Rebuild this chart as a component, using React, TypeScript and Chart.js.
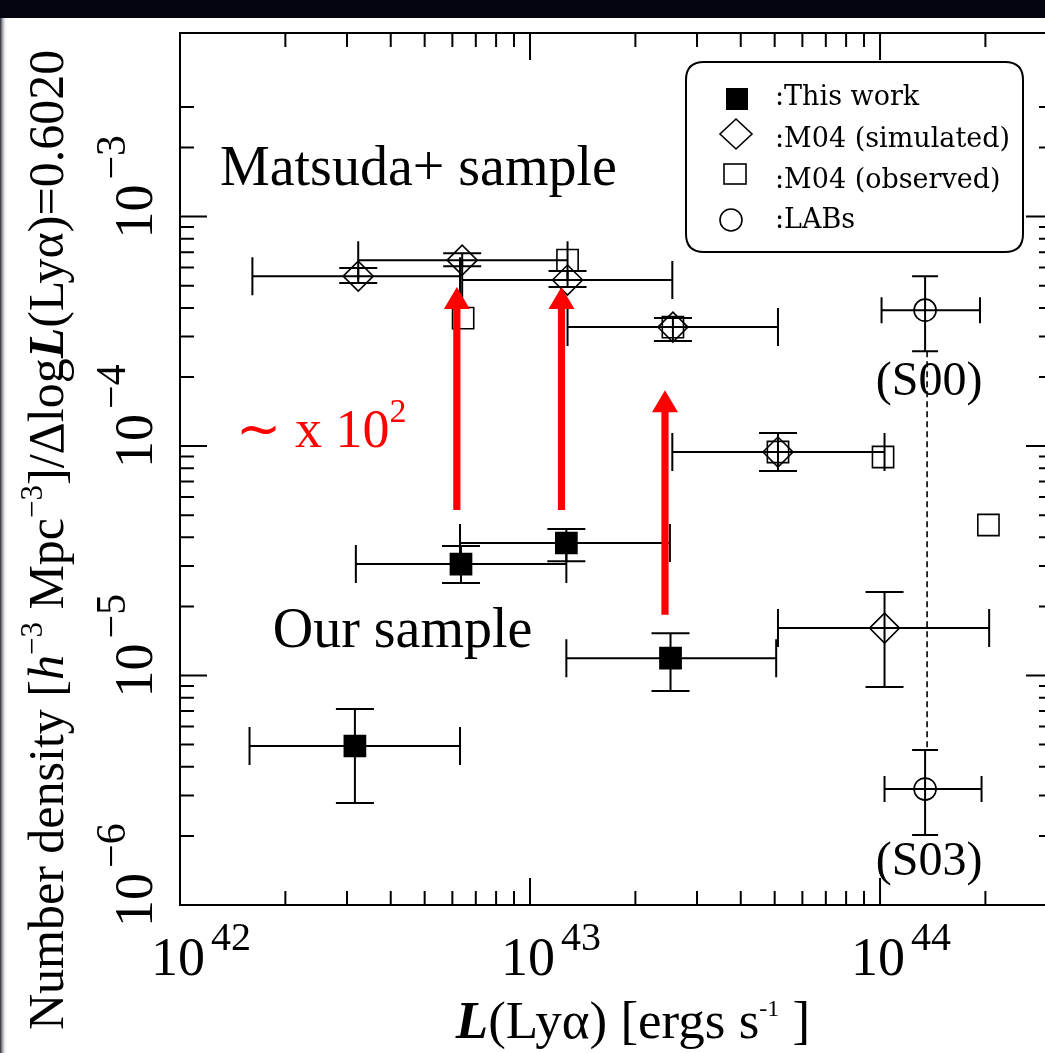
import React, { useEffect, useRef } from "react";
import { Chart, registerables } from "chart.js";

Chart.register(...registerables);

// ---------- data ----------
// This work (filled squares)
const thisWorkL = [3.16e42, 6.35e42, 1.27e43, 2.52e43];
const thisWorkLLo = [1.58e42, 3.18e42, 6.31e42, 1.27e43];
const thisWorkLHi = [6.31e42, 1.27e43, 2.51e43, 5.05e43];
const thisWorkN = [4.93e-6, 3.06e-5, 3.78e-5, 1.19e-5];
const thisWorkNLo = [2.78e-6, 2.53e-5, 3.15e-5, 8.56e-6];
const thisWorkNHi = [7.14e-6, 3.67e-5, 4.35e-5, 1.53e-5];

// M04 (simulated) (open diamonds)
const m04SimL = [3.23e42, 6.4e42, 1.28e43, 2.56e43, 5.11e43, 1.03e44];
const m04SimLLo = [1.61e42, 3.23e42, 6.4e42, 1.28e43, 2.55e43, 5.11e43];
const m04SimLHi = [6.31e42, 1.28e43, 2.55e43, 5.11e43, 1.03e44, 2.05e44];
const m04SimN = [5.5e-4, 6.46e-4, 5.29e-4, 3.3e-4, 9.42e-5, 1.61e-5];
const m04SimNLo = [5.13e-4, 6.08e-4, 4.93e-4, 2.87e-4, 7.78e-5, 8.91e-6];
const m04SimNHi = [5.97e-4, 6.93e-4, 5.79e-4, 3.61e-4, 1.14e-4, 2.31e-5];

// M04 (observed) (open squares)
const m04ObsL = [6.44e42, 1.28e43, 2.56e43, 5.11e43, 1.02e44, 2.04e44];
const m04ObsN = [3.61e-4, 6.46e-4, 3.3e-4, 9.42e-5, 8.96e-5, 4.53e-5];

// LABs (open circles)
const labNames = ["(S00)", "(S03)"];
const labL = [1.345e44, 1.345e44];
const labLLo = [1.01e44, 1.03e44];
const labLHi = [1.93e44, 1.95e44];
const labN = [3.91e-4, 3.2e-6];
const labNLo = [2.59e-4, 2.02e-6];
const labNHi = [5.5e-4, 4.74e-6];

// red arrows (~ x 10^2)
const arrowL = [6.18e42, 1.23e43, 2.43e43];
const arrowFrom = [5.26e-5, 5.26e-5, 1.84e-5];
const arrowTo = [4.93e-4, 4.93e-4, 1.75e-4];

// axes
const xMin = 1e42;
const xMax = 3.12e44;
const yMin = 1e-6;
const yMax = 6.31e-3;
const xMajorTicks = [1e42, 1e43, 1e44];
const xTickExponents = ["42", "43", "44"];
const yMajorTicks = [1e-6, 1e-5, 1e-4, 1e-3];
const yTickExponents = ["\u22126", "\u22125", "\u22124", "\u22123"];
const yMinorTop = 3e-3;

const legendLabels = [":This work", ":M04 (simulated)", ":M04 (observed)", ":LABs"];

const W = 1045;
const H = 1053;
const CW = 1060; // canvas wider than the page so the right frame falls off-screen
const SERIF = "'Liberation Serif', 'Times New Roman', serif";

type Run = { text: string; font: string; dy?: number };

function runsWidth(ctx: CanvasRenderingContext2D, runs: Run[]) {
  let t = 0;
  for (const r of runs) {
    ctx.font = r.font;
    t += ctx.measureText(r.text).width;
  }
  return t;
}

function drawRuns(ctx: CanvasRenderingContext2D, runs: Run[], x: number, y: number, align = "left") {
  const total = runsWidth(ctx, runs);
  let cx = align === "center" ? x - total / 2 : x;
  ctx.textAlign = "left";
  ctx.textBaseline = "alphabetic";
  for (const r of runs) {
    ctx.font = r.font;
    ctx.fillText(r.text, cx, y + (r.dy || 0));
    cx += ctx.measureText(r.text).width;
  }
}

function minorValues(lo: number, hi: number, top: number) {
  const out: number[] = [];
  for (let e = Math.floor(Math.log10(lo)); e <= Math.ceil(Math.log10(hi)); e++) {
    for (let m = 2; m <= 9; m++) {
      const v = m * Math.pow(10, e);
      if (v > lo && v < hi && v <= top * 1.0001) out.push(v);
    }
  }
  return out;
}

const overlay = {
  id: "overlay",
  beforeDraw(chart: any) {
    const ctx: CanvasRenderingContext2D = chart.ctx;
    ctx.save();
    ctx.fillStyle = "#ffffff";
    ctx.fillRect(0, 0, CW, H);
    ctx.restore();
  },
  beforeDatasetsDraw(chart: any) {
    const ctx: CanvasRenderingContext2D = chart.ctx;
    const xs = chart.scales.x;
    const ys = chart.scales.y;
    ctx.save();
    ctx.strokeStyle = "#000";
    ctx.lineWidth = 2;
    const errs = (L: number[], Llo: number[], Lhi: number[], N: number[], Nlo: number[], Nhi: number[], cap: number) => {
      for (let i = 0; i < L.length; i++) {
        const px = xs.getPixelForValue(L[i]);
        const py = ys.getPixelForValue(N[i]);
        const x0 = xs.getPixelForValue(Llo[i]);
        const x1 = xs.getPixelForValue(Lhi[i]);
        const y0 = ys.getPixelForValue(Nlo[i]);
        const y1 = ys.getPixelForValue(Nhi[i]);
        ctx.beginPath();
        ctx.moveTo(x0, py); ctx.lineTo(x1, py);
        ctx.moveTo(x0, py - cap); ctx.lineTo(x0, py + cap);
        ctx.moveTo(x1, py - cap); ctx.lineTo(x1, py + cap);
        ctx.moveTo(px, y0); ctx.lineTo(px, y1);
        ctx.moveTo(px - cap, y0); ctx.lineTo(px + cap, y0);
        ctx.moveTo(px - cap, y1); ctx.lineTo(px + cap, y1);
        ctx.stroke();
      }
    };
    errs(thisWorkL, thisWorkLLo, thisWorkLHi, thisWorkN, thisWorkNLo, thisWorkNHi, 19);
    errs(m04SimL, m04SimLLo, m04SimLHi, m04SimN, m04SimNLo, m04SimNHi, 19);
    errs(labL, labLLo, labLHi, labN, labNLo, labNHi, 13);
    // dashed connector between LABs
    ctx.lineWidth = 1.6;
    ctx.setLineDash([6, 4]);
    ctx.beginPath();
    ctx.moveTo(xs.getPixelForValue(labL[0]) + 2, ys.getPixelForValue(labNLo[0]));
    ctx.lineTo(xs.getPixelForValue(labL[1]) + 2, ys.getPixelForValue(labNHi[1]));
    ctx.stroke();
    ctx.restore();
  },
  afterDatasetsDraw(chart: any) {
    const ctx: CanvasRenderingContext2D = chart.ctx;
    const xs = chart.scales.x;
    const ys = chart.scales.y;
    const a = chart.chartArea;
    ctx.save();
    ctx.strokeStyle = "#000";
    ctx.fillStyle = "#000";
    ctx.lineWidth = 2;
    // frame
    ctx.strokeRect(a.left, a.top, a.right - a.left, a.bottom - a.top);
    // ticks
    const MAJ = 27, MIN = 14;
    ctx.beginPath();
    for (const v of xMajorTicks) {
      const p = xs.getPixelForValue(v);
      ctx.moveTo(p, a.bottom); ctx.lineTo(p, a.bottom - MAJ);
      ctx.moveTo(p, a.top); ctx.lineTo(p, a.top + MAJ);
    }
    for (const v of minorValues(xMin, xMax, xMax)) {
      const p = xs.getPixelForValue(v);
      ctx.moveTo(p, a.bottom); ctx.lineTo(p, a.bottom - MIN);
      ctx.moveTo(p, a.top); ctx.lineTo(p, a.top + MIN);
    }
    for (const v of yMajorTicks) {
      const p = ys.getPixelForValue(v);
      ctx.moveTo(a.left, p); ctx.lineTo(a.left + MAJ, p);
      ctx.moveTo(a.right, p); ctx.lineTo(a.right - MAJ, p);
    }
    for (const v of minorValues(yMin, yMax, yMinorTop)) {
      const p = ys.getPixelForValue(v);
      ctx.moveTo(a.left, p); ctx.lineTo(a.left + MIN, p);
      ctx.moveTo(a.right, p); ctx.lineTo(a.right - MIN, p);
    }
    ctx.stroke();

    // x tick labels
    ctx.textBaseline = "alphabetic";
    xMajorTicks.forEach((v, i) => {
      const p = xs.getPixelForValue(v);
      ctx.font = `54px ${SERIF}`;
      ctx.textAlign = "center";
      ctx.fillText("10", p - 2, 975);
      const w = ctx.measureText("10").width;
      ctx.font = `40px ${SERIF}`;
      ctx.textAlign = "left";
      ctx.fillText(xTickExponents[i], p - 2 + w / 2 + 6, 950);
    });
    // y tick labels (rotated)
    yMajorTicks.forEach((v, i) => {
      const p = ys.getPixelForValue(v);
      ctx.save();
      ctx.translate(152, p);
      ctx.rotate(-Math.PI / 2);
      ctx.font = `54px ${SERIF}`;
      ctx.textAlign = "center";
      ctx.fillText("10", 5, 0);
      const w = ctx.measureText("10").width;
      ctx.font = `42px ${SERIF}`;
      ctx.textAlign = "left";
      ctx.fillText(yTickExponents[i], 5 + w / 2 + 5, -27);
      ctx.restore();
    });

    // x title
    drawRuns(ctx, [
      { text: "L", font: `bold italic 53px ${SERIF}` },
      { text: "(Ly\u03b1) [ergs s", font: `53px ${SERIF}` },
      { text: "-1", font: `24px ${SERIF}`, dy: -22 },
      { text: " ]", font: `53px ${SERIF}` },
    ], 633, 1038, "center");

    // y title (rotated)
    ctx.save();
    ctx.translate(63, 1030);
    ctx.rotate(-Math.PI / 2);
    drawRuns(ctx, [
      { text: "Number density [", font: `50px ${SERIF}` },
      { text: "h", font: `italic 50px ${SERIF}` },
      { text: "\u22123", font: `31px ${SERIF}`, dy: -21 },
      { text: " Mpc", font: `50px ${SERIF}` },
      { text: "\u22123", font: `31px ${SERIF}`, dy: -21 },
      { text: "]/\u0394log", font: `50px ${SERIF}` },
      { text: "L", font: `bold italic 50px ${SERIF}` },
      { text: "(Ly\u03b1)=0.6020", font: `50px ${SERIF}` },
    ], 0, 0, "left");
    ctx.restore();

    // dark slide frame (top band and left edge)
    ctx.fillStyle = "#03050e";
    ctx.fillRect(0, 0, CW, 18);
    const g = ctx.createLinearGradient(0, 0, 7, 0);
    g.addColorStop(0, "#20222e");
    g.addColorStop(1, "rgba(255,255,255,0)");
    ctx.fillStyle = g;
    ctx.fillRect(0, 18, 7, H - 18);

    // annotations
    ctx.fillStyle = "#000";
    ctx.font = `56px ${SERIF}`;
    ctx.textAlign = "left";
    ctx.fillText("Matsuda+ sample", xs.getPixelForValue(1.3e42), ys.getPixelForValue(1.37e-3));
    ctx.fillText("Our sample", xs.getPixelForValue(1.84e42), ys.getPixelForValue(1.33e-5));

    ctx.font = `48px ${SERIF}`;
    ctx.textAlign = "center";
    labNames.forEach((t, i) => {
      const yv = i === 0 ? 1.67e-4 : 1.35e-6;
      ctx.fillText(t, xs.getPixelForValue(labL[i]) + 4, ys.getPixelForValue(yv));
    });

    // red arrows
    ctx.fillStyle = "#ff0000";
    arrowL.forEach((L, i) => {
      const px = xs.getPixelForValue(L);
      const yb = ys.getPixelForValue(arrowFrom[i]);
      const yt = ys.getPixelForValue(arrowTo[i]);
      const head = 22, hw = 13, sw = 3.6;
      ctx.beginPath();
      ctx.moveTo(px - sw, yb);
      ctx.lineTo(px - sw, yt + head);
      ctx.lineTo(px - hw, yt + head);
      ctx.lineTo(px, yt);
      ctx.lineTo(px + hw, yt + head);
      ctx.lineTo(px + sw, yt + head);
      ctx.lineTo(px + sw, yb);
      ctx.closePath();
      ctx.fill();
    });
    // ~ x 10^2
    const tx = xs.getPixelForValue(1.45e42);
    const ty = ys.getPixelForValue(9.9e-5);
    drawRuns(ctx, [
      { text: "\u223c x 10", font: `54px ${SERIF}` },
      { text: "2", font: `34px ${SERIF}`, dy: -25 },
    ], tx, ty, "left");

    // legend box
    ctx.strokeStyle = "#000";
    ctx.lineWidth = 2;
    const lx0 = 686, ly0 = 62, lx1 = 1023, ly1 = 252, r = 18;
    ctx.beginPath();
    ctx.moveTo(lx0 + r, ly0);
    ctx.lineTo(lx1 - r, ly0);
    ctx.quadraticCurveTo(lx1, ly0, lx1, ly0 + r);
    ctx.lineTo(lx1, ly1 - r);
    ctx.quadraticCurveTo(lx1, ly1, lx1 - r, ly1);
    ctx.lineTo(lx0 + r, ly1);
    ctx.quadraticCurveTo(lx0, ly1, lx0, ly1 - r);
    ctx.lineTo(lx0, ly0 + r);
    ctx.quadraticCurveTo(lx0, ly0, lx0 + r, ly0);
    ctx.closePath();
    ctx.fillStyle = "#fff";
    ctx.fill();
    ctx.stroke();
    ctx.fillStyle = "#000";
    ctx.lineWidth = 1.6;
    // legend markers
    ctx.fillRect(726, 88, 22, 22);
    ctx.beginPath();
    ctx.moveTo(736, 119); ctx.lineTo(752, 134); ctx.lineTo(736, 149); ctx.lineTo(720, 134); ctx.closePath();
    ctx.stroke();
    ctx.strokeRect(724, 164, 22, 20);
    ctx.beginPath();
    ctx.arc(731, 220, 11, 0, Math.PI * 2);
    ctx.stroke();
    ctx.font = `27px 'DejaVu Serif', serif`;
    ctx.textAlign = "left";
    const base = [105, 147, 188, 228];
    legendLabels.forEach((t, i) => ctx.fillText(t, 775, base[i]));
    ctx.restore();
  },
};

export default function App() {
  const ref = useRef<HTMLCanvasElement | null>(null);
  useEffect(() => {
    if (!ref.current) return;
    const chart = new Chart(ref.current, {
      type: "scatter",
      data: {
        datasets: [
          {
            label: "This work",
            data: thisWorkL.map((x, i) => ({ x, y: thisWorkN[i] })),
            pointStyle: "rect",
            pointRadius: 15,
            backgroundColor: "#000",
            borderColor: "#000",
            borderWidth: 1.5,
          },
          {
            label: "M04 (simulated)",
            data: m04SimL.map((x, i) => ({ x, y: m04SimN[i] })),
            pointStyle: "rectRot",
            pointRadius: 15,
            backgroundColor: "rgba(0,0,0,0)",
            borderColor: "#000",
            borderWidth: 1.6,
          },
          {
            label: "M04 (observed)",
            data: m04ObsL.map((x, i) => ({ x, y: m04ObsN[i] })),
            pointStyle: "rect",
            pointRadius: 15,
            backgroundColor: "rgba(0,0,0,0)",
            borderColor: "#000",
            borderWidth: 1.6,
          },
          {
            label: "LABs",
            data: labL.map((x, i) => ({ x, y: labN[i] })),
            pointStyle: "circle",
            pointRadius: 11,
            backgroundColor: "rgba(0,0,0,0)",
            borderColor: "#000",
            borderWidth: 1.6,
          },
        ],
      },
      options: {
        responsive: false,
        animation: false,
        devicePixelRatio: 1,
        events: [],
        layout: { autoPadding: false, padding: { left: 180, top: 33, right: CW - 1053, bottom: 148 } },
        scales: {
          x: { type: "logarithmic", min: xMin, max: xMax, display: false },
          y: { type: "logarithmic", min: yMin, max: yMax, display: false },
        },
        plugins: { legend: { display: false }, tooltip: { enabled: false } },
      } as any,
      plugins: [overlay as any],
    });
    return () => chart.destroy();
  }, []);
  return (
    <div style={{ position: "absolute", left: 0, top: 0, width: W, height: H, overflow: "hidden" }}>
      <canvas ref={ref} width={CW} height={H} style={{ display: "block", width: CW, height: H }} />
    </div>
  );
}
